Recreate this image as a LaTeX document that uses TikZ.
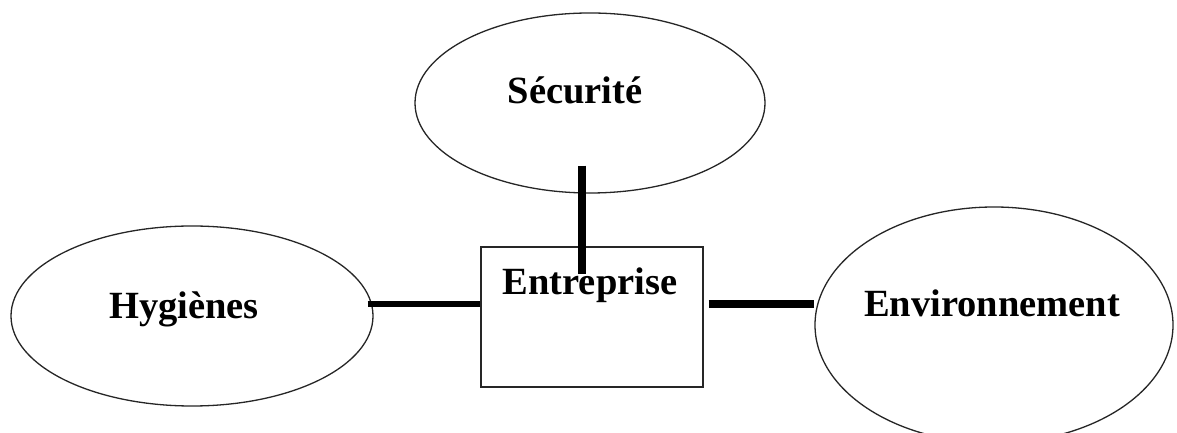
\documentclass[tikz,border=0pt]{standalone}
\usepackage{fontspec}
\setmainfont{Liberation Serif}
\usetikzlibrary{shapes.geometric,calc}
\begin{document}
\begin{tikzpicture}[x=1pt,y=1pt,
  oval/.style={draw=black!85,line width=1.3pt,ellipse,inner sep=0pt},
  boxnode/.style={draw=black!85,line width=1.1pt,rectangle,inner sep=0pt,minimum width=222pt,minimum height=140pt},
  lbl/.style={font=\fontsize{38.5}{42}\selectfont\bfseries,anchor=base,inner sep=0pt},
  link/.style={black,line cap=butt}]
\useasboundingbox (0,0) rectangle (1177,433);
\fill[white] (0,0) rectangle (1177,433);
\node[oval,minimum width=350pt,minimum height=180pt] (sec) at (590,330) {};
\node[oval,minimum width=362pt,minimum height=180pt] (hyg) at (192,117) {};
\node[oval,minimum width=358pt,minimum height=236pt] (env) at (994,108) {};
\node[boxnode] (ent) at (592,116) {};
\node[lbl] (tsec) at (575,329) {Sécurité};
\node[lbl] (tent) at (590,138) {Entreprise};
\node[lbl] (thyg) at (184,114) {Hygiènes};
\node[lbl] (tenv) at (992,116) {Environnement};
\coordinate (vtop) at ($(sec.south)+(-8,28)$);
\coordinate (vbot) at ($(ent.north)+(-10,-28)$);
\draw[link,line width=8pt] (vtop) -- (vbot);
\coordinate (lL) at ($(hyg.east)+(-6,12)$);
\draw[link,line width=6pt] (lL) -- (lL -| ent.west);
\coordinate (rL) at ($(ent.east)+(5,13)$);
\draw[link,line width=8pt] (rL) -- (rL -| env.west);
\end{tikzpicture}
\end{document}
